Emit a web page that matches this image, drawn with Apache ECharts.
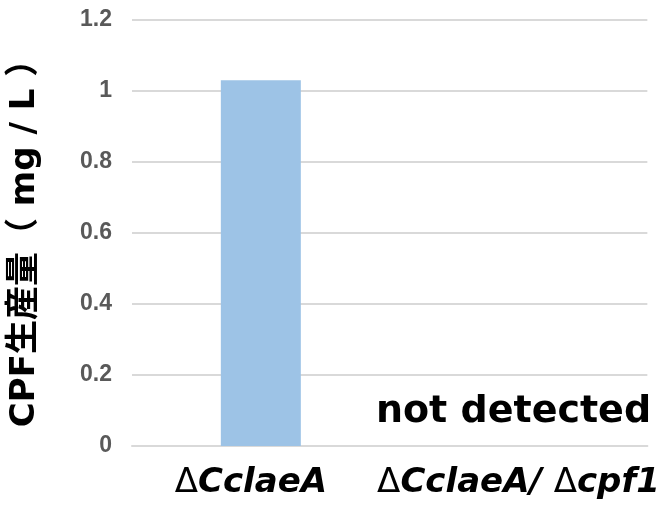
<!DOCTYPE html>
<html><head><meta charset="utf-8">
<script src="https://cdn.jsdelivr.net/npm/echarts@6/dist/echarts.min.js"></script>
<style>html,body{margin:0;padding:0;background:#fff}#c{width:662px;height:512px}</style>
</head><body><div id="c"></div>
<script>
const categories = ['ΔCclaeA', 'ΔCclaeA/Δcpf1'];
const values = [1.03, 0];
const notes = ['', 'not detected'];
const yTicks = [0, 0.2, 0.4, 0.6, 0.8, 1.0, 1.2];
const yName = 'CPF生産量（ mg / L ）';

function richLabel(s, idx) {
  // Δ upright and thin, the rest bold italic
  const body = s.split(/(Δ)/).filter(p => p).map(p =>
    p === 'Δ' ? '{d|Δ}' : '{i|' + p.replace('/', '/ ') + '}').join('');
  return idx === 0 ? body + '{p| }' : body;
}

const chart = echarts.init(document.getElementById('c'));
chart.setOption({
  animation: false,
  grid: { left: 130, right: 13, top: 20, bottom: 66 },
  xAxis: {
    type: 'category', data: categories,
    axisLine: { lineStyle: { color: '#d9d9d9', width: 2 } },
    axisTick: { show: false },
    axisLabel: {
      margin: 20,
      formatter: (v, idx) => richLabel(v, idx),
      rich: {
        i: { color: '#000', fontSize: 34, fontWeight: 'bold', fontStyle: 'italic',
          fontFamily: 'DejaVu Sans, sans-serif' },
        d: { color: '#000', fontSize: 34, fontWeight: 'normal',
          fontFamily: 'DejaVu Sans, sans-serif' },
        p: { width: 20, fontSize: 34 }
      }
    }
  },
  yAxis: {
    type: 'value', min: yTicks[0], max: yTicks[yTicks.length - 1], interval: 0.2,
    name: yName, nameLocation: 'middle', nameGap: 90,
    nameTextStyle: { color: '#000', fontSize: 34, fontWeight: 'bold',
      fontFamily: 'DejaVu Sans, Noto Sans CJK JP, sans-serif', padding: [0, 4, 0, 0] },
    axisLine: { show: false }, axisTick: { show: false },
    splitLine: { lineStyle: { color: '#d9d9d9', width: 2 } },
    axisLabel: { color: '#595959', fontSize: 23, fontWeight: 'bold', margin: 20,
      fontFamily: 'Liberation Sans, Arial, sans-serif',
      formatter: v => String(Math.round(v * 10) / 10) }
  },
  series: [{
    type: 'bar', barWidth: 80,
    itemStyle: { color: '#9dc3e6' },
    data: values.map((v, i) => ({
      value: v,
      label: notes[i] ? { show: true, position: 'top', distance: 15, offset: [-5, 0],
        formatter: notes[i],
        color: '#000', fontSize: 38, fontWeight: 'bold',
        fontFamily: 'DejaVu Sans, sans-serif' } : { show: false }
    }))
  }]
});
</script></body></html>
